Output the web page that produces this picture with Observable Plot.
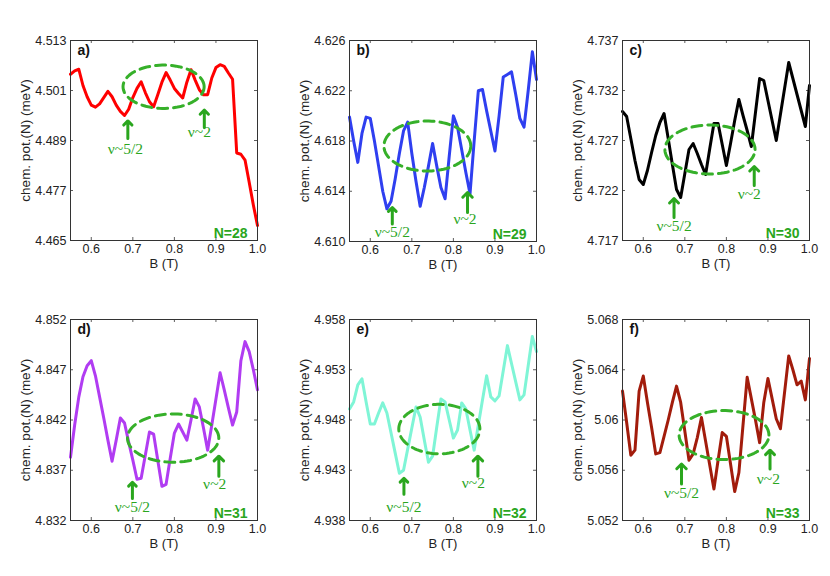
<!DOCTYPE html>
<html><head><meta charset="utf-8">
<script src="https://cdn.jsdelivr.net/npm/d3@7"></script>
<script src="https://cdn.jsdelivr.net/npm/@observablehq/plot@0.6"></script>
<style>
body{margin:0;background:#fff}
#wrap{position:relative;width:830px;height:576px;overflow:hidden;background:#fff}
#wrap svg{position:absolute;overflow:visible}
</style>
</head><body><div id="wrap"></div>
<script>
// Magnetic field B (T)
const B = [0.55,0.56,0.57,0.58,0.59,0.60,0.61,0.62,0.63,0.64,0.65,0.66,0.67,0.68,0.69,0.70,0.71,0.72,0.73,0.74,0.75,0.76,0.77,0.78,0.79,0.80,0.81,0.82,0.83,0.84,0.85,0.86,0.87,0.88,0.89,0.90,0.91,0.92,0.93,0.94,0.95,0.96,0.97,0.98,0.99,1.00];

// chemical potential (meV) for each N
const muN28 = [4.5049,4.5057,4.5061,4.5022,4.4995,4.4975,4.4970,4.4978,4.4993,4.5008,4.4995,4.4975,4.4960,4.4950,4.4965,4.4993,4.5015,4.5031,4.5005,4.4983,4.4971,4.5000,4.5030,4.5053,4.5035,4.5015,4.5003,4.4992,4.5030,4.5060,4.5035,4.5012,4.5000,4.5000,4.5040,4.5065,4.5072,4.5068,4.5052,4.5037,4.4860,4.4857,4.4843,4.4790,4.4735,4.4686];
const muN29 = [4.6199,4.6180,4.6163,4.6186,4.6199,4.6198,4.6180,4.6160,4.6140,4.6126,4.6132,4.6150,4.6170,4.6188,4.6195,4.6170,4.6148,4.6128,4.6143,4.6160,4.6178,4.6160,4.6143,4.6134,4.6168,4.6200,4.6191,4.6173,4.6155,4.6138,4.6180,4.6220,4.6221,4.6204,4.6188,4.6172,4.6200,4.6231,4.6233,4.6235,4.6217,4.6198,4.6191,4.6220,4.6251,4.6229];
const muN30 = [4.7299,4.7294,4.7272,4.7250,4.7231,4.7226,4.7240,4.7258,4.7275,4.7288,4.7297,4.7272,4.7246,4.7221,4.7213,4.7237,4.7261,4.7267,4.7257,4.7246,4.7236,4.7262,4.7287,4.7287,4.7266,4.7245,4.7267,4.7290,4.7311,4.7295,4.7280,4.7264,4.7298,4.7332,4.7330,4.7310,4.7290,4.7270,4.7296,4.7322,4.7348,4.7332,4.7316,4.7300,4.7284,4.7325];
const muN31 = [4.8383,4.8415,4.8443,4.8463,4.8474,4.8479,4.8464,4.8443,4.8422,4.8400,4.8379,4.8400,4.8422,4.8417,4.8398,4.8380,4.8361,4.8362,4.8385,4.8408,4.8406,4.8380,4.8354,4.8356,4.8382,4.8407,4.8416,4.8408,4.8400,4.8420,4.8441,4.8433,4.8412,4.8390,4.8415,4.8441,4.8467,4.8450,4.8432,4.8415,4.8428,4.8479,4.8498,4.8488,4.8470,4.8450];
const muN32 = [4.9491,4.9498,4.9515,4.9521,4.9498,4.9476,4.9476,4.9487,4.9497,4.9487,4.9467,4.9447,4.9427,4.9430,4.9451,4.9472,4.9493,4.9483,4.9460,4.9438,4.9444,4.9473,4.9501,4.9498,4.9480,4.9462,4.9470,4.9497,4.9491,4.9470,4.9450,4.9475,4.9500,4.9524,4.9503,4.9499,4.9504,4.9529,4.9554,4.9536,4.9518,4.9500,4.9505,4.9534,4.9563,4.9548];
const muN33 = [5.0623,5.0598,5.0572,5.0576,5.0623,5.0635,5.0614,5.0594,5.0573,5.0574,5.0587,5.0600,5.0614,5.0627,5.0614,5.0591,5.0568,5.0573,5.0586,5.0602,5.0583,5.0564,5.0545,5.0568,5.0590,5.0587,5.0565,5.0543,5.0558,5.0596,5.0634,5.0617,5.0600,5.0582,5.0614,5.0633,5.0617,5.0601,5.0593,5.0622,5.0651,5.0640,5.0628,5.0631,5.0616,5.0649];

// axis ticks
const xTicks = [0.6, 0.7, 0.8, 0.9, 1.0];
const xTickLabels = ["0.6", "0.7", "0.8", "0.9", "1.0"];
const yTicksN28 = [4.465, 4.477, 4.489, 4.501, 4.513];
const yLabelsN28 = ["4.465", "4.477", "4.489", "4.501", "4.513"];
const yTicksN29 = [4.610, 4.614, 4.618, 4.622, 4.626];
const yLabelsN29 = ["4.610", "4.614", "4.618", "4.622", "4.626"];
const yTicksN30 = [4.717, 4.722, 4.727, 4.732, 4.737];
const yLabelsN30 = ["4.717", "4.722", "4.727", "4.732", "4.737"];
const yTicksN31 = [4.832, 4.837, 4.842, 4.847, 4.852];
const yLabelsN31 = ["4.832", "4.837", "4.842", "4.847", "4.852"];
const yTicksN32 = [4.938, 4.943, 4.948, 4.953, 4.958];
const yLabelsN32 = ["4.938", "4.943", "4.948", "4.953", "4.958"];
const yTicksN33 = [5.052, 5.056, 5.060, 5.064, 5.068];
const yLabelsN33 = ["5.052", "5.056", "5.06", "5.064", "5.068"];

// panel texts
const panelTags = ["a)", "b)", "c)", "d)", "e)", "f)"];
const panelN = ["N=28", "N=29", "N=30", "N=31", "N=32", "N=33"];
const nuLabels = ["\u03bd~5/2", "\u03bd~2"];

// annotations (data coordinates): ellipse [cB, cMu, rB, rMu]
const ellipses = [
  [0.774, 4.5019, 0.0976, 0.0052],
  [0.7373, 4.6176, 0.1045, 0.00199],
  [0.7605, 4.7261, 0.1085, 0.00245],
  [0.797, 4.8402, 0.1099, 0.00240],
  [0.7662, 4.9471, 0.0976, 0.00246],
  [0.7943, 5.0588, 0.1081, 0.00195]
];
// arrows: [B, tailMu, tipMu] for nu~5/2 and nu~2
const arrows52 = [[0.688, 4.4895, 4.4937],[0.653, 4.6114, 4.6127],[0.674, 4.7193, 4.7212],[0.699, 4.8342, 4.8358],[0.681, 4.9406, 4.9422],[0.692, 5.0549, 5.0565]];
const arrows2 = [[0.872, 4.4921, 4.4963],[0.834, 4.6123, 4.6139],[0.867, 4.7225, 4.7244],[0.907, 4.8364, 4.8384],[0.859, 4.9424, 4.9444],[0.905, 5.0561, 5.0576]];
// label anchor (text top) [B, mu]
const labels52 = [[0.682, 4.4884],[0.653, 4.6112],[0.674, 4.7191],[0.699, 4.8339],[0.681, 4.9399],[0.692, 5.0547]];
const labels2 = [[0.860, 4.4925],[0.828, 4.6123],[0.855, 4.7223],[0.897, 4.8362],[0.848, 4.9423],[0.901, 5.0558]];

const muSeries = [muN28, muN29, muN30, muN31, muN32, muN33];
const yTickSets = [yTicksN28, yTicksN29, yTicksN30, yTicksN31, yTicksN32, yTicksN33];
const yLabelSets = [yLabelsN28, yLabelsN29, yLabelsN30, yLabelsN31, yLabelsN32, yLabelsN33];

// styles
const lineColors = ["#ff0000", "#2f3ff0", "#000000", "#b13cf2", "#7ff5d6", "#a21c0c"];
const green = "#2aa61e";
const dashGreen = "#36b02a";
// layout
const layout = [
  {left: 0,   top: 0,   width: 280, height: 280},
  {left: 279, top: 0,   width: 280, height: 281},
  {left: 552, top: 0,   width: 278, height: 280},
  {left: 0,   top: 279, width: 280, height: 281},
  {left: 279, top: 279, width: 280, height: 281},
  {left: 552, top: 279, width: 278, height: 281}
];

const wrap = document.getElementById("wrap");

muSeries.forEach((mu, i) => {
  const L = layout[i];
  const ml = 70, mt = 40, mb = 40;
  const mr = L.width - ml - 187;
  const pw = L.width - ml - mr, ph = L.height - mt - mb;
  const yt = yTickSets[i], yl = yLabelSets[i];
  const data = B.map((b, j) => ({b, m: mu[j]}));
  const [cx, cy, rx, ry] = ellipses[i];
  const ell = d3.range(0, 361, 4).map(t => ({b: cx + rx * Math.cos(t * Math.PI / 180), m: cy + ry * Math.sin(t * Math.PI / 180)}));
  const arr = [arrows52[i], arrows2[i]].map(a => ({b: a[0], y1: a[1], y2: a[2]}));
  const lab = [labels52[i], labels2[i]].map((a, k) => ({b: a[0], m: a[1], t: nuLabels[k]}));
  const tk = 3;
  const svg = Plot.plot({
    width: L.width, height: L.height,
    marginLeft: ml, marginRight: mr, marginTop: mt, marginBottom: mb,
    style: {fontFamily: "Liberation Sans, Arial, Helvetica, sans-serif", fontSize: "12.5px", color: "#222", background: "transparent"},
    x: {domain: [0.55, 1.0]},
    y: {domain: [yt[0], yt[yt.length - 1]]},
    marks: [
      Plot.axisX({ticks: xTicks, tickSize: 0, tickPadding: 4, tickFormat: (d) => xTickLabels[xTicks.indexOf(d)], label: null, fontSize: 12.5}),
      Plot.axisX({ticks: [], label: "B (T)", labelAnchor: "center", labelArrow: "none", labelOffset: 27, fontSize: 13}),
      Plot.axisY({ticks: yt, tickSize: 0, tickPadding: 4, tickFormat: (d) => yl[yt.indexOf(d)], label: null, fontSize: 12.5}),
      Plot.axisY({ticks: [], label: "chem. pot.(N) (meV)", labelAnchor: "center", labelArrow: "none", labelOffset: 50, fontSize: 13.5}),
      Plot.tickY(yt, {y: d => d, insetRight: pw - tk, stroke: "#333", strokeWidth: 0.8}),
      Plot.tickY(yt, {y: d => d, insetLeft: pw - tk, stroke: "#333", strokeWidth: 0.8}),
      Plot.tickX(xTicks, {x: d => d, insetTop: ph - tk, stroke: "#333", strokeWidth: 0.8}),
      Plot.tickX(xTicks, {x: d => d, insetBottom: ph - tk, stroke: "#333", strokeWidth: 0.8}),
      Plot.line(data, {x: "b", y: "m", stroke: lineColors[i], strokeWidth: 3, strokeLinejoin: "round"}),
      Plot.line(ell, {x: "b", y: "m", stroke: dashGreen, strokeWidth: 3, strokeDasharray: "10,6", curve: "linear"}),
      Plot.arrow(arr, {x: "b", y1: "y1", y2: "y2", stroke: green, strokeWidth: 3, headLength: 8, headAngle: 90, insetEnd: 0}),
      Plot.text(lab, {x: "b", y: "m", text: "t", fill: green, fontSize: 15.5, fontFamily: "Liberation Serif, Times New Roman, serif", lineAnchor: "top", textAnchor: "middle"}),
      Plot.text([panelTags[i]], {text: d => d, frameAnchor: "top-left", dx: 7, dy: 5, fontWeight: "bold", fontSize: 14, fill: "#111"}),
      Plot.text([panelN[i]], {text: d => d, frameAnchor: "bottom-right", dx: -10, dy: -3, fontWeight: "bold", fontSize: 14, fill: green}),
      Plot.frame({stroke: "#333", strokeWidth: 1})
    ]
  });
  svg.style.left = L.left + "px";
  svg.style.top = L.top + "px";
  wrap.appendChild(svg);
});
</script>
</body></html>
